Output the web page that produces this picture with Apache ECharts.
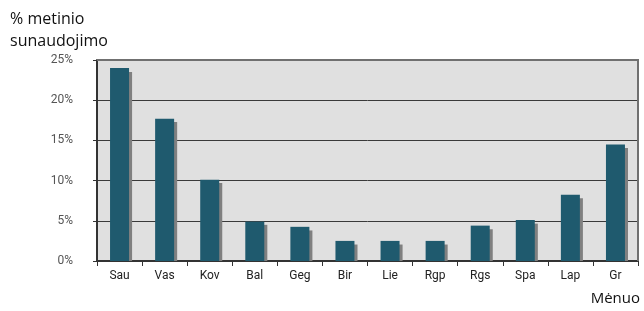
<!DOCTYPE html>
<html>
<head>
<meta charset="utf-8">
<script src="https://cdn.jsdelivr.net/npm/echarts@6/dist/echarts.min.js"></script>
<style>
html,body{margin:0;padding:0;background:#fff;}
#main{width:644px;height:311px;}
</style>
</head>
<body>
<div id="main"></div>
<script>
// menesiai
var months = ['Sau','Vas','Kov','Bal','Geg','Bir','Lie','Rgp','Rgs','Spa','Lap','Gr'];
// % metinio sunaudojimo
var usage = [24.0, 17.7, 10.1, 4.9, 4.25, 2.5, 2.5, 2.5, 4.4, 5.1, 8.25, 14.5];
// seselis (pilkas stulpelis uz)
var shade = [23.5, 17.3, 9.7, 4.5, 3.8, 2.05, 2.05, 2.05, 3.95, 4.65, 7.8, 14.05];
var yTicks = [0, 5, 10, 15, 20, 25];

var myChart = echarts.init(document.getElementById('main'));
var option = {
	animation: false,
	textStyle: {fontFamily: 'Roboto'},
	graphic: [
		{
			type: 'text', left: 10, top: 8,
			style: {text: '% metinio\nsunaudojimo', fontSize: 16, lineHeight: 22, fill: '#111', fontFamily: 'Open Sans'}
		},
		{
			type: 'text', right: 4, top: 291,
			style: {text: 'Mėnuo', fontSize: 15, fill: '#111', fontFamily: 'Open Sans'}
		},
		{
			// virsutinis ir desinys remelis
			type: 'polyline', z: 1,
			shape: {points: [[97, 60], [638, 60], [638, 261]]},
			style: {stroke: '#707070', lineWidth: 2, fill: null}
		}
	],
	grid: {
		left: 97, right: 6, top: 60, bottom: 50,
		show: true, backgroundColor: '#e0e0e0', borderWidth: 0
	},
	xAxis: {
		type: 'category',
		data: months,
		axisLine: {lineStyle: {color: '#333', width: 2}},
		axisTick: {show: true, length: 5, lineStyle: {color: '#333'}},
		axisLabel: {color: '#222', fontSize: 12, margin: 9},
		splitLine: {show: false}
	},
	yAxis: {
		type: 'value',
		min: yTicks[0], max: yTicks[yTicks.length - 1], interval: 5,
		axisLine: {show: true, lineStyle: {color: '#333', width: 2}},
		axisTick: {show: true, length: 4, lineStyle: {color: '#333'}},
		axisLabel: {color: '#555', fontSize: 12, margin: 24, formatter: '{value}%'},
		splitLine: {show: true, lineStyle: {color: '#3a3a3a', width: 1}}
	},
	series: [
		{
			// tuscias tarpas kad stulpeliai butu per viduri
			name: 'spacer',
			type: 'bar',
			silent: true,
			barWidth: 19,
			itemStyle: {color: 'rgba(0,0,0,0)'},
			data: usage
		},
		{
			name: 'usage',
			type: 'bar',
			z: 3,
			barWidth: 19,
			itemStyle: {color: '#1f5a6e'},
			data: usage
		},
		{
			name: 'shade',
			type: 'bar',
			z: 2,
			barWidth: 19,
			barGap: '-84%',
			itemStyle: {color: '#808080'},
			data: shade
		}
	]
};
myChart.setOption(option);
</script>
</body>
</html>
